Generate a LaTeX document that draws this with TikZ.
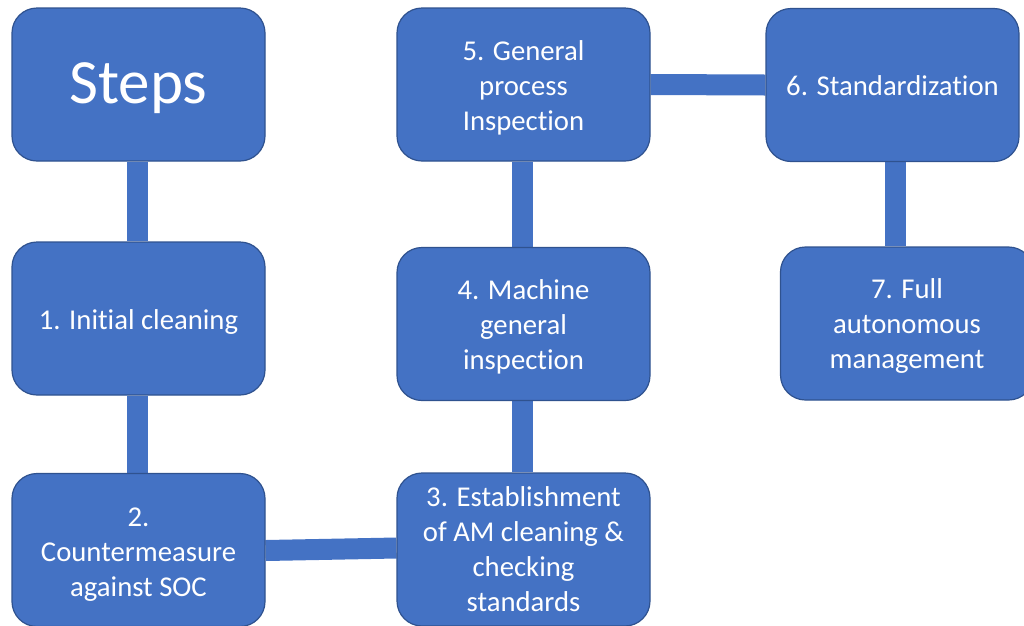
\documentclass[tikz,border=0pt]{standalone}
\usepackage{fontspec}
\setmainfont{Carlito}[Ligatures=NoCommon]
\usetikzlibrary{backgrounds}
\definecolor{boxblue}{HTML}{4472C4}
\definecolor{boxedge}{HTML}{2F528F}
\begin{document}
\begin{tikzpicture}[x=1pt,y=-1pt,
  stepbox/.style={draw=boxedge, line width=1.2pt, fill=boxblue, rounded corners=25pt,
    minimum width=253pt, minimum height=153pt, inner sep=0pt},
  steptext/.style={text=white, align=center, inner sep=0pt,
    font=\fontsize{28.7}{35}\selectfont},
  link/.style={draw=boxblue, line width=21pt}]
\clip (0,0) rectangle (1024,625);
% boxes, each with its caption placed as a centred label
\node[stepbox, label={[steptext, yshift=-4pt, font=\fontsize{63}{76}\selectfont]center:Steps}]
  (steps) at (138.5,84.5) {};
\node[stepbox, label={[steptext, yshift=-3pt]center:{1. Initial cleaning}}]
  (b1) at (138.5,318.5) {};
\node[stepbox, label={[steptext, yshift=-5pt]center:{2.\\Countermeasure\\against SOC}}]
  (b2) at (138.5,550) {};
\node[stepbox, label={[steptext, yshift=0.5pt]center:{3. Establishment\\of AM cleaning \&\\checking\\standards}}]
  (b3) at (523.5,549.5) {};
\node[stepbox, label={[steptext, yshift=-3pt]center:{4. Machine\\general\\inspection}}]
  (b4) at (523.5,324) {};
\node[stepbox, label={[steptext, yshift=-3pt]center:{5. General\\process\\Inspection}}]
  (b5) at (523.5,84.5) {};
\node[stepbox, label={[steptext, yshift=-1pt]center:{6. Standardization}}]
  (b6) at (892.5,85) {};
\node[stepbox, label={[steptext, yshift=-2pt]center:{7. Full\\autonomous\\management}}]
  (b7) at (907,323.5) {};
% connecting bars behind the boxes
\begin{scope}[on background layer]
  \draw[link] ([xshift=-1pt]steps.south) -- ([xshift=-1pt]b1.north);
  \draw[link] ([xshift=-1pt]b1.south) -- ([xshift=-1pt]b2.north);
  \draw[link] ([yshift=-0.5pt]b2.east) -- ([yshift=1.5pt]b3.west);
  \draw[link] ([xshift=-1.5pt]b3.north) -- ([xshift=-1.5pt]b4.south);
  \draw[link] ([xshift=-1.5pt]b4.north) -- ([xshift=-1.5pt]b5.south);
  \draw[link] (b5.east) -- (b6.west);
  \draw[link] ([xshift=2.5pt]b6.south) -- ([xshift=2.5pt]b6.south |- b7.north);
\end{scope}
\end{tikzpicture}
\end{document}
